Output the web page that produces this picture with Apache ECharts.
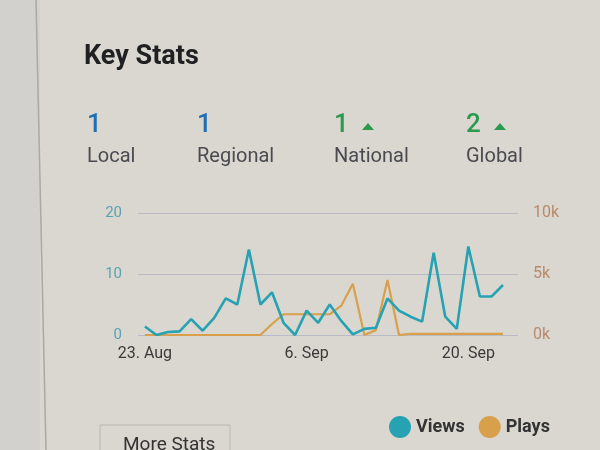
<!DOCTYPE html>
<html>
<head>
<meta charset="utf-8">
<script src="https://cdn.jsdelivr.net/npm/echarts@6/dist/echarts.min.js"></script>
<style>
html,body{margin:0;padding:0;background:#dad7d0;}
#chart{width:600px;height:450px;}
</style>
</head>
<body>
<div id="chart"></div>
<script>
const dates = ['23. Aug','24. Aug','25. Aug','26. Aug','27. Aug','28. Aug','29. Aug','30. Aug','31. Aug',
  '1. Sep','2. Sep','3. Sep','4. Sep','5. Sep','6. Sep','7. Sep','8. Sep','9. Sep','10. Sep','11. Sep',
  '12. Sep','13. Sep','14. Sep','15. Sep','16. Sep','17. Sep','18. Sep','19. Sep','20. Sep','21. Sep',
  '22. Sep','23. Sep'];
const views = [1.4,0,0.5,0.6,2.6,0.7,2.8,6,5,14,5,7,2,0,4,2,5,2.3,0.1,1,1.2,6,4,3,2.2,13.5,3,1,14.5,6.3,6.3,8.2];
const plays = [0,0,0,0,0,0,0,0,0,0,0,900,1700,1700,1700,1700,1700,2400,4200,0,400,4500,0,100,100,100,100,100,100,100,100,100];
const xTickIdx = [0,14,28];
const leftTicks = [0,10,20];
const rightTicks = ['0k','5k','10k'];
const statNums = ['1','1','1','2'];
const statLabels = ['Local','Regional','National','Global'];
const statUp = [false,false,true,true];

const chart = echarts.init(document.getElementById('chart'));
const statX = [87,197,334,466];
const graphics = [
  {type:'rect', shape:{x:0,y:0,width:40,height:450}, style:{fill:'#d2d1cd'}, z:-10},
  {type:'line', shape:{x1:36,y1:0,x2:46,y2:450}, style:{stroke:'#a9a9a8',lineWidth:1.5}, z:-9},
  {type:'text', left:84, top:44, style:{text:'Key Stats', font:'bold 27px Roboto', fill:'#1f2022'}},
  {type:'rect', shape:{x:100,y:425,width:130,height:40}, style:{fill:'none',stroke:'#b8b6b1',lineWidth:1}},
  {type:'text', left:123, top:436, style:{text:'More Stats', font:'19px Roboto', fill:'#333'}}
];
statNums.forEach((n,i)=>{
  const col = statUp[i] ? '#2a9a4e' : '#1f6fb6';
  graphics.push({type:'text', left:statX[i], top:112, style:{text:n, font:'500 26px Roboto', fill:col}});
  if (statUp[i]) {
    graphics.push({type:'polygon', shape:{points:[[statX[i]+28,130],[statX[i]+40,130],[statX[i]+34,123]]}, style:{fill:'#2a9a4e'}});
  }
  graphics.push({type:'text', left:statX[i], top:147, style:{text:statLabels[i], font:'20px Roboto', fill:'#4a4b50'}});
});

chart.setOption({
  backgroundColor:'#dad7d0',
  animation:false,
  graphic: graphics,
  grid:{left:138, right:82, top:213, bottom:115},
  legend:{
    data:['Views','Plays'], left:384, top:411, icon:'circle', itemWidth:22, itemHeight:22, itemGap:14,
    textStyle:{fontFamily:'Roboto', fontWeight:'bold', fontSize:18, color:'#333'}
  },
  xAxis:{
    type:'value', min:-0.6, max:32.3,
    splitLine:{show:false},
    axisLine:{show:false}, axisTick:{show:false},
    axisLabel:{customValues:xTickIdx, formatter:v=>dates[v], fontFamily:'Roboto', fontSize:16, color:'#3a3a3a', margin:11}
  },
  yAxis:[
    {type:'value', min:0, max:20, interval:10,
     axisLine:{show:false}, axisTick:{show:false},
     axisLabel:{formatter:v=>String(v), fontFamily:'Roboto', fontSize:15, color:'#5aa2b2', margin:16},
     splitLine:{lineStyle:{color:'#b9bcc6', width:1}}},
    {type:'value', min:0, max:10000, interval:5000,
     axisLine:{show:false}, axisTick:{show:false},
     axisLabel:{formatter:v=>rightTicks[leftTicks.indexOf(v/500)], fontFamily:'Roboto', fontSize:16, color:'#b88a6c', margin:15},
     splitLine:{show:false}}
  ],
  series:[
    {name:'Views', type:'line', yAxisIndex:0, showSymbol:false, color:'#27a2b3',
     lineStyle:{width:2.6, color:'#27a2b3'}, data:views.map((v,i)=>[i,v]), z:3},
    {name:'Plays', type:'line', yAxisIndex:1, showSymbol:false, color:'#d9a04c',
     lineStyle:{width:2.2, color:'#d9a04c'}, data:plays.map((v,i)=>[i,v]), z:2}
  ]
});
</script>
</body>
</html>
